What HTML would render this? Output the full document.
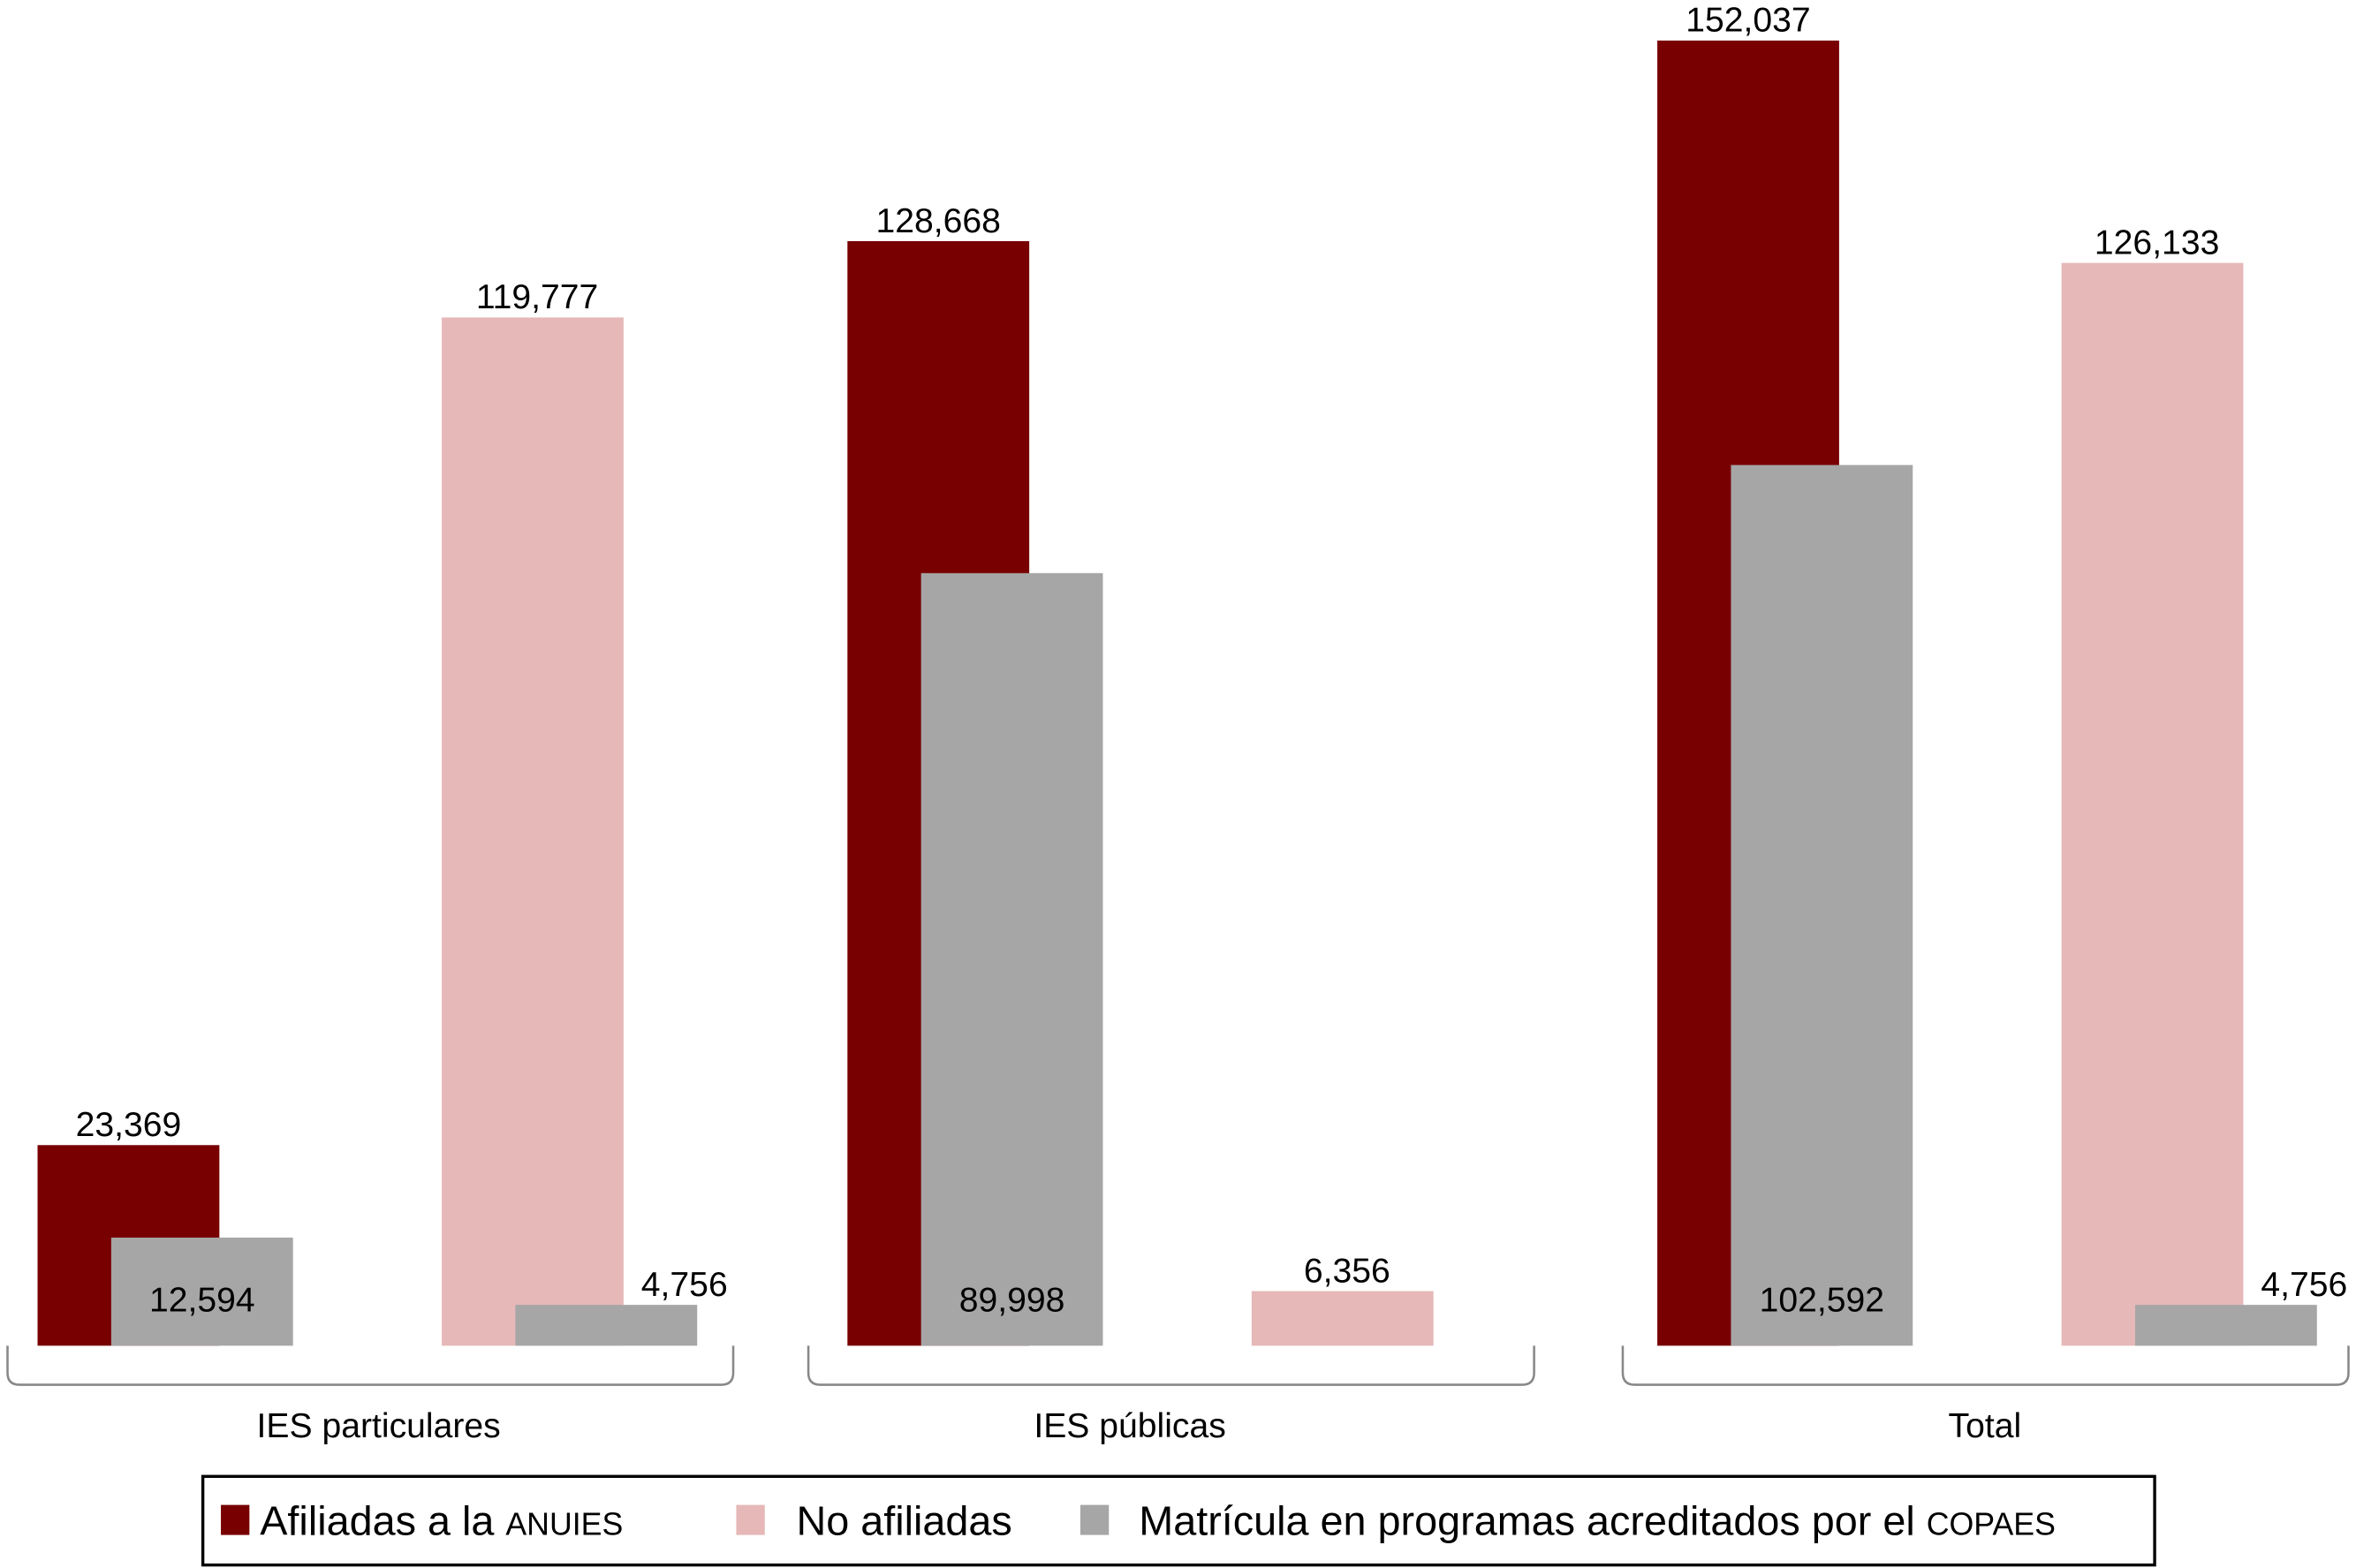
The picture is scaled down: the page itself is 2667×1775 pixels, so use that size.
<!DOCTYPE html>
<html><head><meta charset="utf-8"><style>
html,body{margin:0;padding:0;background:#fff;}
svg{display:block;}
text{font-family:"Liberation Sans",Arial,sans-serif;fill:#000;}
</style></head><body>
<svg id="chart" width="2667" height="1775" viewBox="0 0 1568 1044" preserveAspectRatio="none" xmlns="http://www.w3.org/2000/svg">
<g id="bars"></g>
<g id="braces"></g>
<g>
<rect x="135" y="983" width="1299" height="59" fill="#fff" stroke="#000" stroke-width="2"/>
<rect x="147" y="1002" width="19" height="20" fill="#780000"/>
<text x="173" y="1022" font-size="27.5">Afiliadas a la <tspan font-size="21">ANUIES</tspan></text>
<rect x="490" y="1002" width="19" height="20" fill="#e6b8b8"/>
<text x="530" y="1022" font-size="27.5">No afiliadas</text>
<rect x="719" y="1002" width="19" height="20" fill="#a6a6a6"/>
<text x="758" y="1022" font-size="27.5">Matrícula en programas acreditados por el <tspan font-size="21">COPAES</tspan></text>
</g>
</svg>
<script>
const categories = ["IES particulares", "IES públicas", "Total"];
const afiliadas = [23369, 128668, 152037];
const afiliadasCopaes = [12594, 89998, 102592];
const noAfiliadas = [119777, 6356, 126133];
const noAfiliadasCopaes = [4756, 0, 4756];

const NS = "http://www.w3.org/2000/svg";
const baseY = 896, topY = 27, maxV = 152037;
function yScale(v){ return baseY - v * (baseY - topY) / maxV; }
const groupX0 = [25, 564, 1103];
const braceLeft = [5, 538, 1080];
const catLabelX = [252, 752, 1321];
const bw = 121, off = 49, pairGap = 269;
const fmt = v => v.toLocaleString("en-US");
const barsG = document.getElementById("bars");
const braceG = document.getElementById("braces");

function mk(tag, attrs, parent){ const e = document.createElementNS(NS, tag); for (const k in attrs) e.setAttribute(k, attrs[k]); parent.appendChild(e); return e; }
function bar(x, v, fill, name){
  const y = yScale(v);
  const r = mk("rect", {x: x, y: y, width: bw, height: baseY - y, fill: fill}, barsG);
  
  
}
function label(x, y, v, name){
  const t = mk("text", {x: x, y: y, "font-size": 23, "text-anchor": "middle"}, barsG);
  t.textContent = fmt(v);
  
  
}

categories.forEach((c, i) => {
  const x0 = groupX0[i];
  bar(x0, afiliadas[i], "#780000", "bar-afiliadas-" + i);
  bar(x0 + off, afiliadasCopaes[i], "#a6a6a6", "bar-afiliadas-copaes-" + i);
  label(x0 + bw / 2, yScale(afiliadas[i]) - 6, afiliadas[i], "value-afiliadas-" + i);
  label(x0 + off + bw / 2, baseY - 23, afiliadasCopaes[i], "value-afiliadas-copaes-" + i);
  const x1 = x0 + pairGap;
  bar(x1, noAfiliadas[i], "#e6b8b8", "bar-no-afiliadas-" + i);
  label(x1 + bw / 2 + 3, yScale(noAfiliadas[i]) - 6, noAfiliadas[i], "value-no-afiliadas-" + i);
  if (noAfiliadasCopaes[i] > 0) {
    bar(x1 + off, noAfiliadasCopaes[i], "#a6a6a6", "bar-no-afiliadas-copaes-" + i);
    label(x1 + off + bw / 2 + 52, yScale(noAfiliadasCopaes[i]) - 6, noAfiliadasCopaes[i], "value-no-afiliadas-copaes-" + i);
  }
  const bl = braceLeft[i], br = bl + 483;
  const p = mk("path", {d: `M${bl} 896 L${bl} 914 Q${bl} 922 ${bl+8} 922 L${br-8} 922 Q${br} 922 ${br} 914 L${br} 896`, fill: "none", stroke: "#888", "stroke-width": 1.5}, braceG);
  
  
  const t = mk("text", {x: catLabelX[i], y: 957, "font-size": 23, "text-anchor": "middle"}, braceG);
  t.textContent = c;
  
  
});
</script>
</body></html>
